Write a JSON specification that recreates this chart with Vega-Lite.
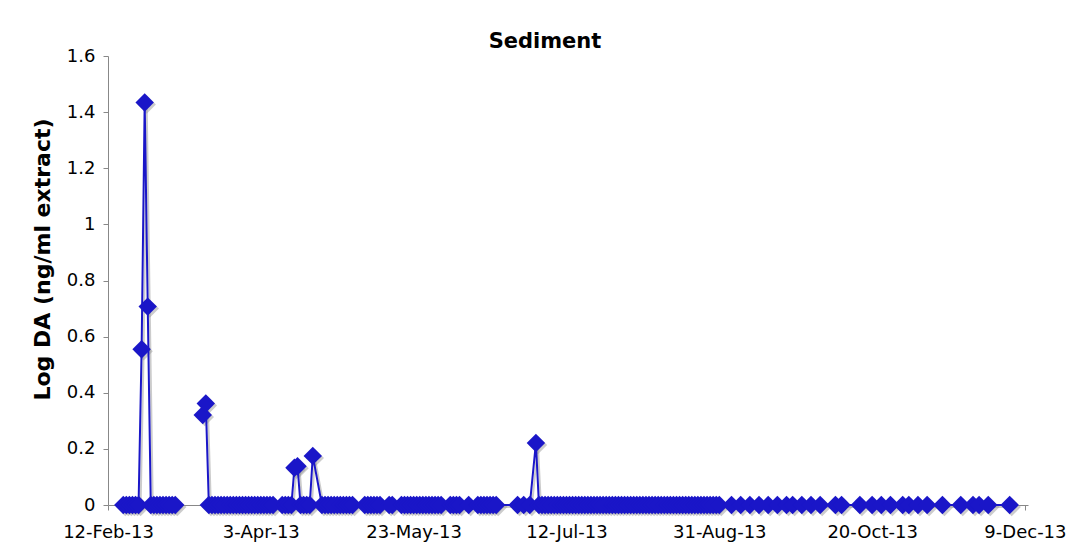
{
  "$schema": "https://vega.github.io/schema/vega-lite/v6.json",
  "width": 920,
  "height": 449,
  "autosize": {"type": "none"},
  "padding": {"left": 108, "top": 56, "right": 41, "bottom": 53},
  "background": "white",
  "title": {"text": "Sediment", "font": "DejaVu Sans", "fontSize": 21, "fontWeight": "bold", "color": "black", "anchor": "middle", "frame": "group", "offset": -5, "dx": -23},
  "data": {
    "format": {"parse": {"date": "date:'%Y-%m-%d'"}},
    "values": [
      {"date": "2013-02-17", "value": 0}, {"date": "2013-02-18", "value": 0}, {"date": "2013-02-19", "value": 0},
      {"date": "2013-02-20", "value": 0}, {"date": "2013-02-21", "value": 0}, {"date": "2013-02-22", "value": 0},
      {"date": "2013-02-23", "value": 0.555}, {"date": "2013-02-24", "value": 1.434}, {"date": "2013-02-25", "value": 0.707},
      {"date": "2013-02-26", "value": 0}, {"date": "2013-02-27", "value": 0}, {"date": "2013-02-28", "value": 0},
      {"date": "2013-03-01", "value": 0}, {"date": "2013-03-02", "value": 0}, {"date": "2013-03-03", "value": 0},
      {"date": "2013-03-04", "value": 0}, {"date": "2013-03-05", "value": 0}, {"date": "2013-03-06", "value": 0},
      {"date": "2013-03-11", "value": null},
      {"date": "2013-03-15", "value": 0.321}, {"date": "2013-03-16", "value": 0.362},
      {"date": "2013-03-17", "value": 0}, {"date": "2013-03-18", "value": 0}, {"date": "2013-03-19", "value": 0},
      {"date": "2013-03-20", "value": 0}, {"date": "2013-03-21", "value": 0}, {"date": "2013-03-22", "value": 0},
      {"date": "2013-03-23", "value": 0}, {"date": "2013-03-24", "value": 0}, {"date": "2013-03-25", "value": 0},
      {"date": "2013-03-26", "value": 0}, {"date": "2013-03-27", "value": 0}, {"date": "2013-03-28", "value": 0},
      {"date": "2013-03-29", "value": 0}, {"date": "2013-03-30", "value": 0}, {"date": "2013-03-31", "value": 0},
      {"date": "2013-04-01", "value": 0}, {"date": "2013-04-02", "value": 0}, {"date": "2013-04-03", "value": 0},
      {"date": "2013-04-04", "value": 0}, {"date": "2013-04-05", "value": 0}, {"date": "2013-04-06", "value": 0},
      {"date": "2013-04-07", "value": 0},
      {"date": "2013-04-10", "value": 0}, {"date": "2013-04-11", "value": 0}, {"date": "2013-04-12", "value": 0},
      {"date": "2013-04-13", "value": 0}, {"date": "2013-04-14", "value": 0.133}, {"date": "2013-04-15", "value": 0.138},
      {"date": "2013-04-16", "value": 0}, {"date": "2013-04-17", "value": 0}, {"date": "2013-04-18", "value": 0},
      {"date": "2013-04-19", "value": 0}, {"date": "2013-04-20", "value": 0.175},
      {"date": "2013-04-23", "value": 0}, {"date": "2013-04-24", "value": 0}, {"date": "2013-04-25", "value": 0},
      {"date": "2013-04-26", "value": 0}, {"date": "2013-04-27", "value": 0}, {"date": "2013-04-28", "value": 0},
      {"date": "2013-04-29", "value": 0}, {"date": "2013-04-30", "value": 0},
      {"date": "2013-05-01", "value": 0}, {"date": "2013-05-02", "value": 0}, {"date": "2013-05-03", "value": 0},
      {"date": "2013-05-07", "value": 0}, {"date": "2013-05-08", "value": 0}, {"date": "2013-05-09", "value": 0},
      {"date": "2013-05-10", "value": 0}, {"date": "2013-05-11", "value": 0}, {"date": "2013-05-12", "value": 0},
      {"date": "2013-05-15", "value": 0}, {"date": "2013-05-16", "value": 0},
      {"date": "2013-05-19", "value": 0}, {"date": "2013-05-20", "value": 0}, {"date": "2013-05-21", "value": 0},
      {"date": "2013-05-22", "value": 0}, {"date": "2013-05-23", "value": 0}, {"date": "2013-05-24", "value": 0},
      {"date": "2013-05-25", "value": 0}, {"date": "2013-05-26", "value": 0}, {"date": "2013-05-27", "value": 0},
      {"date": "2013-05-28", "value": 0}, {"date": "2013-05-29", "value": 0}, {"date": "2013-05-30", "value": 0},
      {"date": "2013-05-31", "value": 0}, {"date": "2013-06-01", "value": 0},
      {"date": "2013-06-04", "value": 0}, {"date": "2013-06-05", "value": 0}, {"date": "2013-06-06", "value": 0},
      {"date": "2013-06-07", "value": 0}, {"date": "2013-06-10", "value": 0},
      {"date": "2013-06-13", "value": 0}, {"date": "2013-06-14", "value": 0}, {"date": "2013-06-15", "value": 0},
      {"date": "2013-06-16", "value": 0}, {"date": "2013-06-17", "value": 0}, {"date": "2013-06-18", "value": 0},
      {"date": "2013-06-19", "value": 0},
      {"date": "2013-06-26", "value": 0}, {"date": "2013-06-28", "value": 0}, {"date": "2013-06-30", "value": 0},
      {"date": "2013-07-02", "value": 0.221},
      {"date": "2013-07-03", "value": 0}, {"date": "2013-07-04", "value": 0}, {"date": "2013-07-05", "value": 0},
      {"date": "2013-07-06", "value": 0}, {"date": "2013-07-07", "value": 0}, {"date": "2013-07-08", "value": 0},
      {"date": "2013-07-09", "value": 0}, {"date": "2013-07-10", "value": 0}, {"date": "2013-07-11", "value": 0},
      {"date": "2013-07-12", "value": 0}, {"date": "2013-07-13", "value": 0}, {"date": "2013-07-14", "value": 0},
      {"date": "2013-07-15", "value": 0}, {"date": "2013-07-16", "value": 0}, {"date": "2013-07-17", "value": 0},
      {"date": "2013-07-18", "value": 0}, {"date": "2013-07-19", "value": 0}, {"date": "2013-07-20", "value": 0},
      {"date": "2013-07-21", "value": 0}, {"date": "2013-07-22", "value": 0}, {"date": "2013-07-23", "value": 0},
      {"date": "2013-07-24", "value": 0}, {"date": "2013-07-25", "value": 0}, {"date": "2013-07-26", "value": 0},
      {"date": "2013-07-27", "value": 0}, {"date": "2013-07-28", "value": 0}, {"date": "2013-07-29", "value": 0},
      {"date": "2013-07-30", "value": 0}, {"date": "2013-07-31", "value": 0},
      {"date": "2013-08-01", "value": 0}, {"date": "2013-08-02", "value": 0}, {"date": "2013-08-03", "value": 0},
      {"date": "2013-08-04", "value": 0}, {"date": "2013-08-05", "value": 0}, {"date": "2013-08-06", "value": 0},
      {"date": "2013-08-07", "value": 0}, {"date": "2013-08-08", "value": 0}, {"date": "2013-08-09", "value": 0},
      {"date": "2013-08-10", "value": 0}, {"date": "2013-08-11", "value": 0}, {"date": "2013-08-12", "value": 0},
      {"date": "2013-08-13", "value": 0}, {"date": "2013-08-14", "value": 0}, {"date": "2013-08-15", "value": 0},
      {"date": "2013-08-16", "value": 0}, {"date": "2013-08-17", "value": 0}, {"date": "2013-08-18", "value": 0},
      {"date": "2013-08-19", "value": 0}, {"date": "2013-08-20", "value": 0}, {"date": "2013-08-21", "value": 0},
      {"date": "2013-08-22", "value": 0}, {"date": "2013-08-23", "value": 0}, {"date": "2013-08-24", "value": 0},
      {"date": "2013-08-25", "value": 0}, {"date": "2013-08-26", "value": 0}, {"date": "2013-08-27", "value": 0},
      {"date": "2013-08-28", "value": 0}, {"date": "2013-08-29", "value": 0}, {"date": "2013-08-30", "value": 0},
      {"date": "2013-08-31", "value": 0},
      {"date": "2013-09-04", "value": 0}, {"date": "2013-09-07", "value": 0}, {"date": "2013-09-10", "value": 0},
      {"date": "2013-09-13", "value": 0}, {"date": "2013-09-16", "value": 0}, {"date": "2013-09-19", "value": 0},
      {"date": "2013-09-22", "value": 0}, {"date": "2013-09-24", "value": 0}, {"date": "2013-09-27", "value": 0},
      {"date": "2013-09-30", "value": 0},
      {"date": "2013-10-03", "value": 0}, {"date": "2013-10-08", "value": 0}, {"date": "2013-10-10", "value": 0},
      {"date": "2013-10-16", "value": 0}, {"date": "2013-10-20", "value": 0}, {"date": "2013-10-23", "value": 0},
      {"date": "2013-10-26", "value": 0}, {"date": "2013-10-30", "value": 0}, {"date": "2013-11-01", "value": 0},
      {"date": "2013-11-04", "value": 0}, {"date": "2013-11-07", "value": 0},
      {"date": "2013-11-12", "value": 0},
      {"date": "2013-11-18", "value": 0}, {"date": "2013-11-22", "value": 0}, {"date": "2013-11-24", "value": 0},
      {"date": "2013-11-27", "value": 0},
      {"date": "2013-12-04", "value": 0}
    ]
  },
  "encoding": {
    "x": {
      "field": "date",
      "type": "temporal",
      "scale": {"domain": [{"year": 2013, "month": 2, "date": 12}, {"year": 2013, "month": 12, "date": 10}]},
      "axis": {
        "values": [
          {"year": 2013, "month": 2, "date": 12}, {"year": 2013, "month": 4, "date": 3},
          {"year": 2013, "month": 5, "date": 23}, {"year": 2013, "month": 7, "date": 12},
          {"year": 2013, "month": 8, "date": 31}, {"year": 2013, "month": 10, "date": 20},
          {"year": 2013, "month": 12, "date": 9}
        ],
        "format": "%-d-%b-%y",
        "title": null,
        "grid": false,
        "domainColor": "#888888",
        "tickColor": "#888888",
        "tickSize": 5,
        "labelFont": "DejaVu Sans",
        "labelFontSize": 18,
        "labelColor": "black",
        "labelPadding": 13,
        "labelFlush": false,
        "labelOverlap": false
      }
    },
    "y": {
      "field": "value",
      "type": "quantitative",
      "scale": {"domain": [0, 1.6]},
      "axis": {
        "values": [0, 0.2, 0.4, 0.6, 0.8, 1, 1.2, 1.4, 1.6],
        "format": "~g",
        "title": "Log DA (ng/ml extract)",
        "titleFont": "DejaVu Sans",
        "titleFontSize": 22,
        "titleFontWeight": "bold",
        "titleColor": "black",
        "titleX": -66,
        "titleY": 203,
        "titleAngle": -90,
        "titleAlign": "center",
        "titleBaseline": "middle",
        "grid": false,
        "domainColor": "#888888",
        "tickColor": "#888888",
        "tickSize": 5,
        "labelFont": "DejaVu Sans",
        "labelFontSize": 18,
        "labelColor": "black",
        "labelPadding": 8
      }
    }
  },
  "layer": [
    {"mark": {"type": "line", "color": "#999999", "strokeWidth": 2, "opacity": 0.5, "xOffset": 2, "yOffset": 2}},
    {"mark": {"type": "point", "shape": "diamond", "filled": true, "size": 340, "color": "#999999", "opacity": 0.5, "xOffset": 2, "yOffset": 2}},
    {"mark": {"type": "line", "color": "#1a16c8", "strokeWidth": 2}},
    {"mark": {"type": "point", "shape": "diamond", "filled": true, "size": 340, "color": "#1a16c8", "opacity": 1}}
  ],
  "config": {"view": {"stroke": null}, "font": "DejaVu Sans"}
}
